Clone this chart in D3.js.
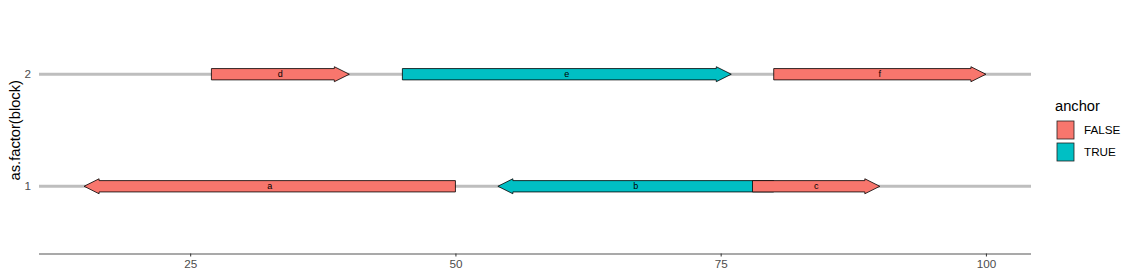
<!DOCTYPE html>
<html>
<head>
<meta charset="utf-8">
<script src="https://cdn.jsdelivr.net/npm/d3@7"></script>
<style>
  body { margin: 0; background: #fff; }
  text { font-family: "Liberation Sans", Arial, sans-serif; }
</style>
</head>
<body>
<div id="chart"></div>
<script>
// gene data
const genes = ['a', 'b', 'c', 'd', 'e', 'f'];
const blocks = [1, 1, 1, 2, 2, 2];
const starts = [50, 80, 78, 27, 45, 80];
const ends = [15, 54, 90, 40, 76, 100];
const anchors = [false, true, false, false, true, false];
const xTicks = [25, 50, 75, 100];
const blockLevels = [1, 2];
const legendLabels = ['FALSE', 'TRUE'];

const width = 1137, height = 278;
const margin = {left: 39, right: 106, top: 7, bottom: 24.5};

const svg = d3.select('#chart').append('svg')
    .attr('width', width)
    .attr('height', height);

// ggplot-style expanded continuous scale
const xmin = d3.min([...starts, ...ends]);
const xmax = d3.max([...starts, ...ends]);
const pad = (xmax - xmin) * 0.05;
const x = d3.scaleLinear()
    .domain([xmin - pad, xmax + pad])
    .range([margin.left, width - margin.right]);

// discrete y with 0.6 expansion
const y = d3.scaleLinear()
    .domain([0.4, 2.6])
    .range([height - margin.bottom, margin.top]);

const fill = d3.scaleOrdinal()
    .domain([false, true])
    .range(['#F8766D', '#00BFC4']);

// grey line for each block
svg.selectAll('.block-line')
    .data(blockLevels)
    .enter()
    .append('line')
    .attr('x1', x.range()[0])
    .attr('x2', x.range()[1])
    .attr('y1', d => y(d))
    .attr('y2', d => y(d))
    .style('stroke', '#bebebe')
    .style('stroke-width', 3);

const data = genes.map((g, i) => ({
    gene: g, block: blocks[i], start: starts[i], end: ends[i], anchor: anchors[i]
}));

const bodyH = 11.3, headH = 15, headW = 15;

function arrowPath(d) {
    const x0 = x(d.start), x1 = x(d.end);
    const cy = y(d.block);
    const dir = x1 > x0 ? 1 : -1;
    const len = Math.abs(x1 - x0);
    const hw = Math.min(headW, len);
    const xb = x1 - dir * hw;
    const p = [
        [x0, cy - bodyH / 2],
        [xb, cy - bodyH / 2],
        [xb, cy - headH / 2],
        [x1, cy],
        [xb, cy + headH / 2],
        [xb, cy + bodyH / 2],
        [x0, cy + bodyH / 2]
    ];
    return 'M' + p.map(q => q.join(',')).join('L') + 'Z';
}

svg.selectAll('.gene')
    .data(data)
    .enter()
    .append('path')
    .attr('class', 'gene')
    .attr('d', arrowPath)
    .style('fill', d => fill(d.anchor))
    .style('stroke', '#000')
    .style('stroke-width', 0.8);

svg.selectAll('.gene-label')
    .data(data)
    .enter()
    .append('text')
    .attr('x', d => (x(d.start) + x(d.end)) / 2)
    .attr('y', d => y(d.block))
    .attr('dy', '0.35em')
    .attr('text-anchor', 'middle')
    .style('font-size', '9px')
    .style('fill', '#000')
    .text(d => d.gene);

// x axis
const xAxis = svg.append('g')
    .attr('transform', `translate(0,${height - margin.bottom})`)
    .call(d3.axisBottom(x).tickValues(xTicks).tickSize(3).tickPadding(3).tickFormat(d3.format('d')));
xAxis.select('.domain').attr('stroke', '#555').attr('stroke-width', 1.1)
    .attr('d', `M${x.range()[0]},0.5H${x.range()[1]}`);
xAxis.selectAll('.tick line').attr('stroke', '#333');
xAxis.selectAll('.tick text')
    .style('font-size', '11.7px')
    .style('fill', '#4d4d4d')
    .style('font-family', '"Liberation Sans", Arial, sans-serif');

// y tick labels
svg.selectAll('.ytick')
    .data(blockLevels)
    .enter()
    .append('text')
    .attr('x', 31)
    .attr('y', d => y(d))
    .attr('dy', '0.35em')
    .attr('text-anchor', 'end')
    .style('font-size', '11.7px')
    .style('fill', '#4d4d4d')
    .text(d => d);

svg.append('text')
    .attr('transform', `translate(20,${(y.range()[0] + y.range()[1]) / 2}) rotate(-90)`)
    .attr('text-anchor', 'middle')
    .style('font-size', '14.7px')
    .style('fill', '#000')
    .text('as.factor(block)');

// legend
const lg = svg.append('g').attr('transform', 'translate(1055,0)');
lg.append('text')
    .attr('x', 0)
    .attr('y', 111)
    .style('font-size', '14.7px')
    .text('anchor');

const keys = lg.selectAll('.key')
    .data(legendLabels)
    .enter()
    .append('g')
    .attr('transform', (d, i) => `translate(0,${120 + i * 22})`);
keys.append('rect')
    .attr('x', 2)
    .attr('y', 1)
    .attr('width', 17)
    .attr('height', 18)
    .style('fill', (d, i) => fill.range()[i])
    .style('stroke', '#222')
    .style('stroke-width', 0.8);
keys.append('text')
    .attr('x', 29)
    .attr('y', 10)
    .attr('dy', '0.35em')
    .style('font-size', '11.7px')
    .style('fill', '#000')
    .text(d => d);
</script>
</body>
</html>
